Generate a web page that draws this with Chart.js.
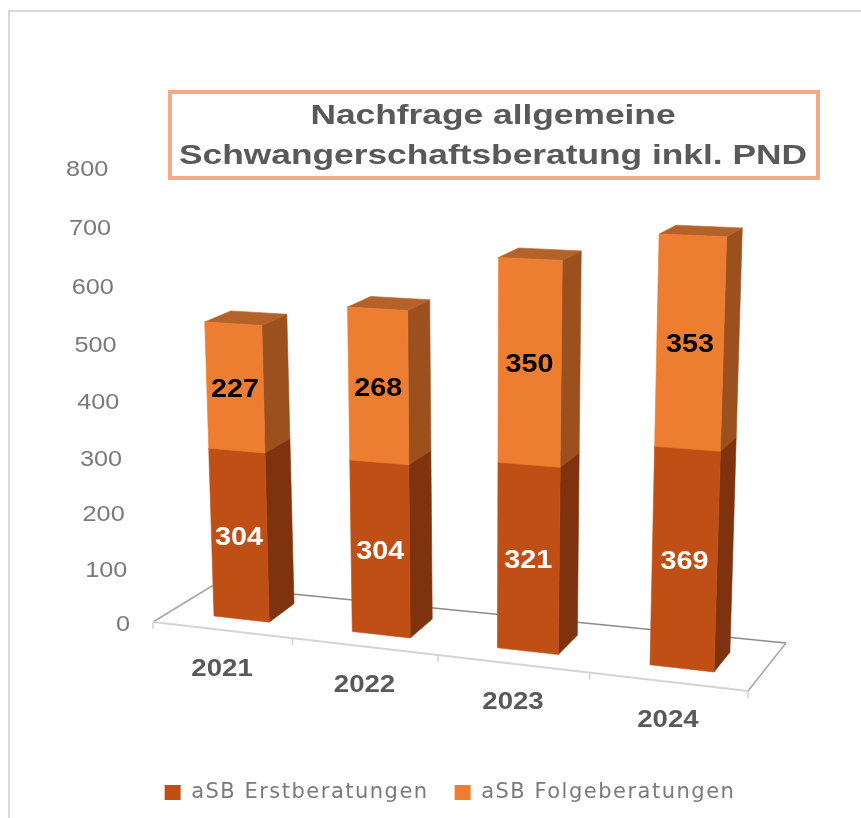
<!DOCTYPE html>
<html>
<head>
<meta charset="utf-8">
<title>Nachfrage allgemeine Schwangerschaftsberatung</title>
<script src="https://cdn.jsdelivr.net/npm/chart.js@4"></script>
<style>
    html, body { margin: 0; padding: 0; background: #fff; }
    #wrap { position: relative; width: 861px; height: 818px; }
</style>
</head>
<body>
<div id="wrap"><canvas id="chart"></canvas></div>
<script>
// ─── DATA ─────────────────────────────────────────────────
const years = ['2021', '2022', '2023', '2024'];
const erstberatungen = [304, 304, 321, 369];
const folgeberatungen = [227, 268, 350, 353];
const yTicks = [0, 100, 200, 300, 400, 500, 600, 700, 800];
const titleLines = ['Nachfrage allgemeine', 'Schwangerschaftsberatung inkl. PND'];

// ─── 3D VIEW ──────────────────────────────────────────────
// the picture is an Excel 3D column chart, so the flat chart gets projected
const FRONT_PLANE = [[214, 616], [714, 672], [728, 189], [200, 171]];
const FLOOR = [[153, 622], [748, 691], [786, 643], [212, 586]];
const shades = [
    { front: '#C04F15', side: '#7F320E', top: '#A04412', label: '#fff' },
    { front: '#ED7D31', side: '#9B501D', top: '#B5622A', label: '#000' }
];
const TEXT_STRETCH = 1.15;
const TITLE_WIDTH = 628;

// unit square -> quad
function homography(q) {
    const [[x0, y0], [x1, y1], [x2, y2], [x3, y3]] = q;
    const dx1 = x1 - x2, dx2 = x3 - x2, sx = x0 - x1 + x2 - x3;
    const dy1 = y1 - y2, dy2 = y3 - y2, sy = y0 - y1 + y2 - y3;
    const det = dx1 * dy2 - dx2 * dy1;
    const g = (sx * dy2 - dx2 * sy) / det;
    const h = (dx1 * sy - sx * dy1) / det;
    const a = x1 - x0 + g * x1, b = x3 - x0 + h * x3;
    const d = y1 - y0 + g * y1, e = y3 - y0 + h * y3;
    return (u, v) => {
        const w = g * u + h * v + 1;
        return [(a * u + b * v + x0) / w, (d * u + e * v + y0) / w];
    };
}
const toFront = homography(FRONT_PLANE);

// front edge of the floor, slightly foreshortened towards the left
function floorEdge(t) {
    const f = t / (1 + 0.088 * (1 - t));
    return [FLOOR[0][0] + (FLOOR[1][0] - FLOOR[0][0]) * f, FLOOR[0][1] + (FLOOR[1][1] - FLOOR[0][1]) * f];
}

// how far the back edge of a column sits from its front edge
const depth = ([x, y]) => [x + 26 - (x - 210) * 0.02, y - 9 - (y - 240) * 0.025];

// left wall, where the value labels sit
function wallPoint(v) {
    const t = v / (1 - 0.047 * v);
    return [130 - 20.7 * t, 623 - 433.5 * t];
}

function poly(c, pts, color) {
    c.beginPath();
    pts.forEach((p, i) => i ? c.lineTo(p[0], p[1]) : c.moveTo(p[0], p[1]));
    c.closePath();
    c.fillStyle = color;
    c.fill();
    c.strokeStyle = color;
    c.lineWidth = 0.6;
    c.stroke();
}

function line(c, a, b, color, width) {
    c.beginPath();
    c.moveTo(a[0], a[1]);
    c.lineTo(b[0], b[1]);
    c.strokeStyle = color;
    c.lineWidth = width;
    c.stroke();
}

function text(c, str, x, y, font, color, align, stretch = TEXT_STRETCH) {
    c.save();
    c.letterSpacing = '0px';
    c.translate(x, y + 2);
    c.scale(stretch, 1);
    c.font = font;
    c.fillStyle = color;
    c.textAlign = align;
    c.textBaseline = 'middle';
    c.fillText(str, 0, 0);
    c.restore();
}

const view3d = {
    id: 'view3d',
    // the legend text in the picture is stretched wide, spacing gets closest to that
    beforeLayout(chart) {
        chart.ctx.letterSpacing = '1.5px';
    },
    beforeDatasetsDraw(chart) {
        const c = chart.ctx;
        const area = chart.chartArea;
        const bars = chart.getDatasetMeta(0).data;
        const first = bars[0], last = bars[bars.length - 1];
        const u0 = first.x - first.width / 2;
        const u1 = last.x + last.width / 2;
        const project = (px, py) => {
            const v = (area.bottom - py) / area.height;
            return toFront((px - u0) / (u1 - u0), v * 1.04 / (1 + 0.04 * v));
        };

        // frame
        line(c, [9, 818], [9, 11], '#D9D9D9', 2);
        line(c, [8, 11], [861, 11], '#D9D9D9', 2);

        // title box
        c.strokeStyle = '#F4AB85';
        c.lineWidth = 4;
        c.strokeRect(170, 92, 648, 86);
        const titleFont = 'bold 28px "Liberation Sans"';
        c.save();
        c.letterSpacing = '0px';
        c.font = titleFont;
        const titleStretch = TITLE_WIDTH / c.measureText(titleLines[1]).width;
        c.restore();
        titleLines.forEach((l, i) => text(c, l, 493, 114.5 + i * 40, titleFont, '#595959', 'center', titleStretch));

        // floor
        line(c, FLOOR[0], FLOOR[3], '#A6A6A6', 1.5);
        line(c, FLOOR[3], FLOOR[2], '#8C8C8C', 1.5);
        line(c, FLOOR[2], FLOOR[1], '#A6A6A6', 1.5);
        line(c, FLOOR[0], FLOOR[1], '#D4D4D4', 2);
        for (let i = 0; i <= years.length; i++) {
            const p = floorEdge(i / years.length);
            line(c, p, [p[0], p[1] + 7], '#D4D4D4', 1.5);
        }

        // axis labels, taken from the scales' ticks
        chart.scales.y.ticks.forEach(t => {
            const p = wallPoint(t.value / 800);
            text(c, String(t.value), p[0], p[1], '22px "Liberation Sans"', '#7A7A7A', 'right');
        });
        chart.scales.x.ticks.forEach((t, i) => {
            const p = floorEdge((i + 0.5) / years.length);
            text(c, years[t.value], p[0], p[1] + 37, 'bold 24px "Liberation Sans"', '#595959', 'center');
        });

        // columns, back to front
        bars.forEach((_, i) => {
            chart.data.datasets.forEach((ds, d) => {
                const el = chart.getDatasetMeta(d).data[i];
                const L = el.x - el.width / 2, R = el.x + el.width / 2;
                const tl = project(L, el.y), tr = project(R, el.y);
                const bl = project(L, el.base), br = project(R, el.base);
                const s = shades[d];
                poly(c, [tr, br, depth(br), depth(tr)], s.side);
                poly(c, [tl, tr, depth(tr), depth(tl)], s.top);
                poly(c, [tl, tr, br, bl], s.front);
            });
        });
        // labels on top of every column
        bars.forEach((_, i) => {
            chart.data.datasets.forEach((ds, d) => {
                const el = chart.getDatasetMeta(d).data[i];
                const p = project(el.x, (el.y + el.base) / 2);
                text(c, String(ds.data[i]), p[0], p[1] + 1, 'bold 25px "Liberation Sans"', shades[d].label, 'center');
            });
        });
        return false; // columns are drawn above, skip the flat ones
    }
};

// ─── CHART ────────────────────────────────────────────────
new Chart(document.getElementById('chart'), {
    type: 'bar',
    data: {
        labels: years,
        datasets: [
            { label: 'aSB Erstberatungen', data: erstberatungen, backgroundColor: shades[0].front },
            { label: 'aSB Folgeberatungen', data: folgeberatungen, backgroundColor: shades[1].front }
        ]
    },
    options: {
        responsive: true,
        maintainAspectRatio: false,
        animation: false,
        categoryPercentage: 0.405,
        barPercentage: 1,
        layout: { padding: { left: 39, top: 98, bottom: 5 } },
        plugins: {
            title: { display: false },
            legend: {
                position: 'bottom',
                labels: {
                    boxWidth: 16,
                    boxHeight: 15,
                    padding: 26,
                    color: '#7A7A7A',
                    font: { family: 'DejaVu Sans', size: 21 }
                }
            },
            tooltip: { enabled: false }
        },
        scales: {
            x: {
                stacked: true,
                grid: { display: false },
                border: { display: false },
                ticks: { display: false }
            },
            y: {
                stacked: true,
                min: yTicks[0],
                max: yTicks[yTicks.length - 1],
                afterFit: s => { s.width = 88; },
                grid: { display: false },
                border: { display: false },
                ticks: { display: false, stepSize: 100 }
            }
        }
    },
    plugins: [view3d]
});
</script>
</body>
</html>
